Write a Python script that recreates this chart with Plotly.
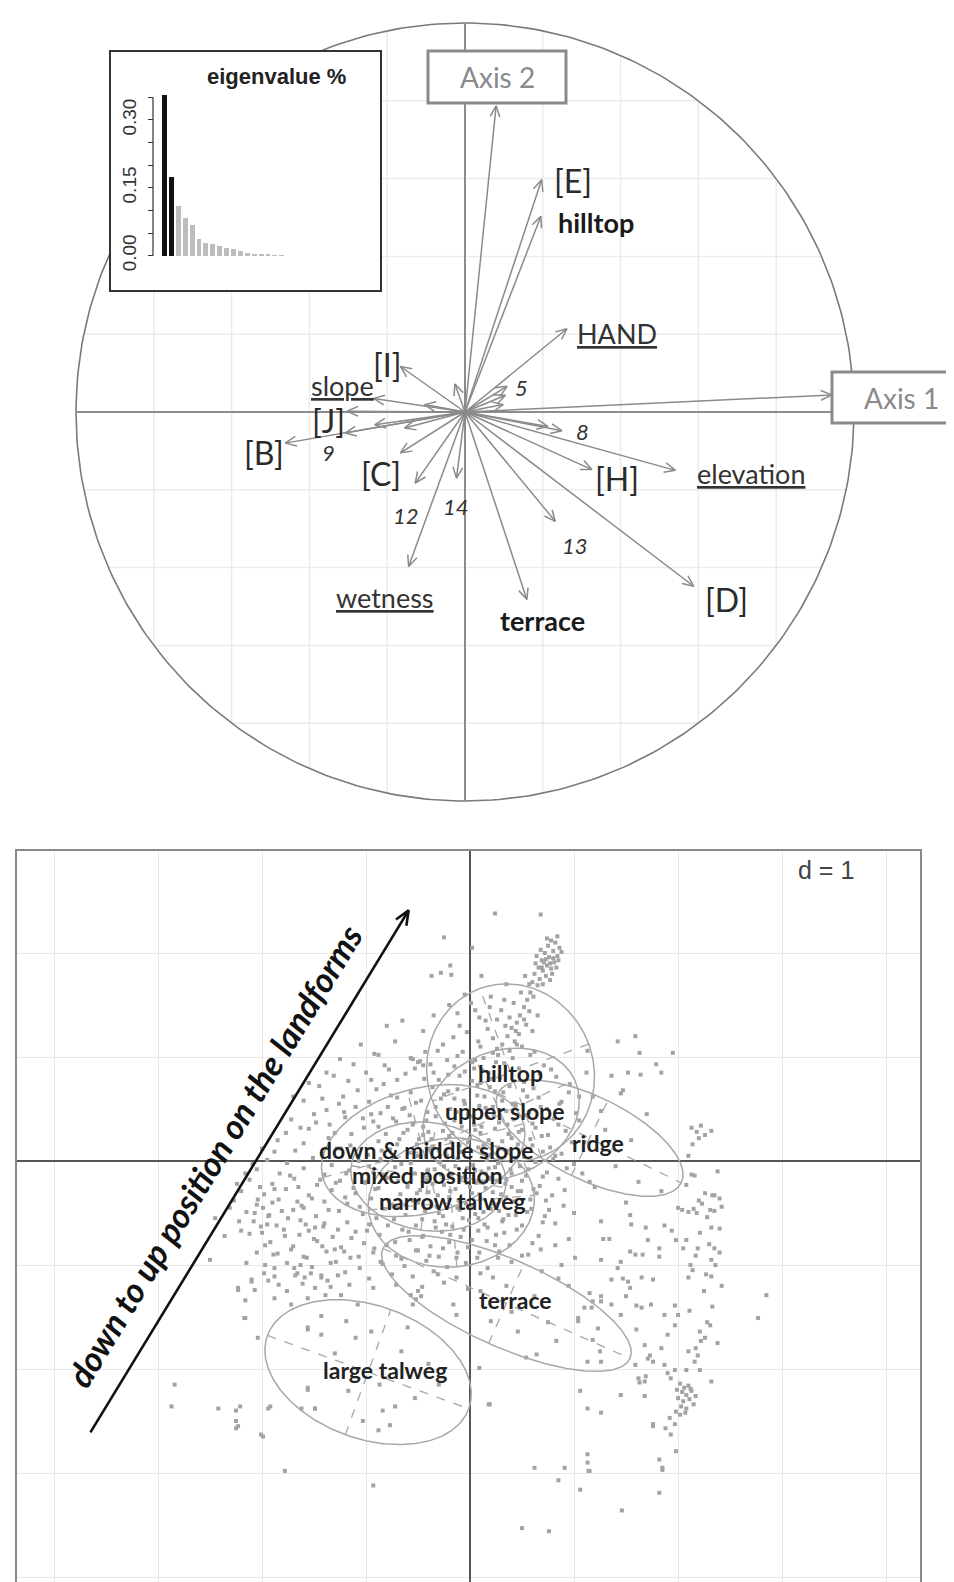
import numpy as np
import plotly.graph_objects as go

W, H = 954, 1582

# ---------------- eigenvalue inset ----------------
eig_values = [0.354, 0.174, 0.110, 0.083, 0.068, 0.0375, 0.029, 0.026, 0.022,
              0.016, 0.015, 0.0096, 0.006, 0.0044, 0.0037, 0.002, 0.0015, 0.001]
n_kept = 2
eig_ticks = [0, 0.05, 0.10, 0.15, 0.20, 0.25, 0.30, 0.35]
eig_ticktext = ["0.00", "", "", "0.15", "", "", "0.30", ""]

# ---------------- correlation circle: arrow tips (axis 1, axis 2) ----------------
var_x = [0.080, 0.197, 0.195, 0.262, -0.166, -0.235, -0.303, -0.462, -0.308, -0.166,
         -0.128, -0.145, -0.022, 0.159, 0.232, 0.588, 0.326, 0.541, 0.249, 0.108,
         0.943, 0.104, 0.098, -0.155, -0.232, -0.104, 0.213, -0.026]
var_y = [0.787, 0.597, 0.503, 0.214, 0.117, 0.035, 0.002, -0.080, -0.054, -0.105,
         -0.183, -0.397, -0.170, -0.482, -0.281, -0.448, -0.148, -0.150, -0.048, 0.066,
         0.044, 0.043, 0.019, -0.041, -0.033, 0.019, -0.037, 0.072]
circle_grid = [-0.8, -0.6, -0.4, -0.2, 0.2, 0.4, 0.6, 0.8]

# labels written next to the arrows
circle_labels = ["[E]", "hilltop", "HAND", "[I]", "slope", "[J]", "[B]", "9", "[C]", "12",
                 "14", "wetness", "terrace", "13", "[H]", "8", "5", "elevation", "[D]"]
circle_label_x = [0.278, 0.337, 0.391, -0.198, -0.316, -0.352, -0.517, -0.352, -0.216, -0.152,
                  -0.023, -0.206, 0.198, 0.283, 0.391, 0.303, 0.144, 0.735, 0.671]
circle_label_y = [0.596, 0.486, 0.203, 0.121, 0.067, -0.021, -0.103, -0.105, -0.157, -0.265,
                  -0.242, -0.478, -0.537, -0.344, -0.172, -0.049, 0.062, -0.159, -0.481]

# ---------------- class scatter (bottom panel) ----------------
classes = ["hilltop", "upper slope", "ridge", "down & middle slope",
           "mixed position", "narrow talweg", "terrace", "large talweg"]
class_label_x = [0.394, 0.327, 1.231, -0.423, -0.404, -0.173, 0.442, -0.817]
class_label_y = [0.846, 0.481, 0.173, 0.106, -0.135, -0.385, -1.337, -2.010]
ell_cx = [0.39, 0.30, 1.15, -0.45, -0.40, -0.18, 0.35, -0.98]
ell_cy = [0.85, 0.45, 0.22, 0.10, -0.15, -0.40, -1.37, -2.03]
ell_a = [0.86, 0.78, 0.98, 1.00, 0.75, 0.80, 1.30, 1.03]
ell_b = [0.80, 0.60, 0.40, 0.60, 0.52, 0.62, 0.42, 0.64]
ell_angle = [110, 25, -26, 15, -8, 5, -24, -20]

cloud = [
    # hilltop blob and its tail
    (0.62, 1.80), (0.66, 1.86), (0.70, 1.83), (0.74, 1.88), (0.78, 1.85), (0.81, 1.91), (0.69, 1.93),
    (0.64, 1.97), (0.72, 2.00), (0.76, 1.96), (0.80, 2.02), (0.84, 1.97), (0.86, 2.05), (0.75, 2.07),
    (0.68, 2.03), (0.73, 1.78), (0.77, 1.74), (0.71, 1.91), (0.79, 1.80), (0.83, 1.86), (0.67, 1.75),
    (0.63, 1.90), (0.82, 2.10), (0.78, 2.12), (0.85, 1.93), (0.74, 2.14), (0.88, 2.01), (0.70, 1.70),
    (0.65, 1.69), (0.60, 1.72), (0.73, 1.94), (0.77, 1.90), (0.69, 1.86), (0.84, 2.16), (0.80, 1.95),
    (0.58, 1.62), (0.55, 1.55), (0.61, 1.58), (0.52, 1.48), (0.57, 1.44), (0.48, 1.40), (0.45, 1.33),
    (0.52, 1.36), (0.40, 1.28), (0.47, 1.22), (0.36, 1.20), (0.43, 1.15), (0.31, 1.12), (0.38, 1.06),
    (0.27, 1.02), (0.50, 1.10), (0.34, 1.30), (0.60, 1.25), (0.22, 1.18), (0.15, 1.35), (0.30, 1.45),
    (0.42, 1.52), (0.10, 1.10), (0.65, 1.40),
    # scattered upper points
    (0.24, 2.38), (0.68, 2.37), (-0.37, 1.78), (-0.28, 1.81), (-0.19, 1.88), (-0.18, 1.79), (0.11, 1.78),
    (-0.05, 1.60), (0.05, 1.45), (-0.20, 1.50), (-0.35, 1.40), (-0.10, 1.30), (0.20, 1.58), (-0.45, 1.25),
    (0.35, 1.70), (0.02, 2.05), (-0.25, 2.15),
    (-0.72, 1.15), (-0.88, 1.02), (-0.57, 0.99), (-0.50, 0.95), (-0.45, 0.92), (-0.53, 0.89), (-0.43, 1.05),
    (-1.05, 1.12), (-1.25, 0.98), (-0.80, 1.30), (-0.65, 1.35), (-1.38, 0.85), (-1.55, 0.75), (-1.70, 0.62),
    (1.42, 1.15), (1.59, 1.20), (1.95, 1.04), (1.84, 0.85), (1.52, 0.85), (1.13, 1.06), (1.45, 0.65),
    (1.26, 0.48), (1.63, 1.04), (1.79, 0.93), (1.64, 0.83), (1.47, 0.68), (1.36, 0.82), (1.12, 0.85),
    (1.05, 0.62), (1.30, 0.30), (1.55, 0.20), (1.70, 0.45), (1.40, -0.05), (1.62, -0.20), (1.20, -0.25),
    (1.50, -0.40),
    # right cluster
    (2.13, 0.32), (2.18, 0.28), (2.22, 0.34), (2.26, 0.25), (2.20, 0.22), (2.32, 0.29), (2.14, 0.16),
    (2.10, 0.05), (2.16, -0.14), (2.08, -0.23), (1.84, -0.29), (2.35, -0.33), (2.35, -0.48), (2.00, -0.45),
    (2.13, -0.13), (2.26, -0.31), (2.33, -0.33), (2.23, -0.41), (2.18, -0.50), (2.31, -0.47), (2.40, -0.36),
    (2.42, -0.44), (2.04, -0.47), (2.10, -0.49), (2.15, -0.46), (2.20, -0.38), (2.28, -0.54), (2.38, -0.10),
    (1.87, -0.62), (1.94, -0.67), (1.98, -0.76), (2.08, -0.76), (2.05, -0.84), (2.19, -0.84), (2.21, -0.69),
    (2.32, -0.64), (2.35, -0.84), (2.40, -0.88), (2.32, -0.95), (2.17, -0.91), (2.12, -1.00), (2.14, -1.05),
    (2.27, -1.09), (2.32, -1.11), (2.10, -1.12), (1.54, -0.52), (1.55, -0.61), (1.69, -0.64), (1.26, -0.58),
    (1.28, -0.75), (1.34, -0.75), (1.54, -0.87), (1.59, -0.90), (1.66, -0.90), (1.71, -0.76), (1.82, -0.92),
    (1.82, -0.84), (1.26, -0.95), (1.45, -0.97), (1.42, -1.03), (1.47, -1.13), (1.52, -1.16), (1.36, -1.14),
    (1.54, -1.22), (1.65, -1.12), (1.76, -1.14), (1.50, -1.30), (1.26, -1.30), (1.18, -1.35), (1.15, -1.27),
    (1.36, -1.38), (1.10, -1.41), (1.60, -1.39), (1.74, -1.38), (1.65, -1.41), (1.87, -1.48), (1.97, -1.39),
    (2.00, -1.48), (2.11, -1.44), (1.90, -1.67), (1.97, -1.58), (1.60, -1.62), (1.23, -1.61), (1.04, -1.51),
    (1.18, -1.72), (1.25, -1.83), (1.13, -1.93), (1.26, -1.93), (1.68, -1.77), (1.73, -1.87), (1.76, -1.93),
    (1.84, -1.80), (1.71, -1.90), (2.21, -1.64), (2.26, -1.70), (2.31, -1.58), (2.22, -1.73), (2.17, -1.80),
    (2.19, -1.87), (2.16, -1.93), (2.10, -1.83), (2.21, -2.01), (1.59, -1.96), (1.62, -2.09), (1.69, -2.07),
    (1.68, -2.12), (1.63, -2.13), (1.87, -1.96), (1.90, -2.04), (1.97, -2.01), (1.93, -2.09), (2.08, -2.01),
    (2.32, -2.12), (2.40, -0.65), (2.30, -0.80), (2.36, -1.00), (2.25, -1.25), (2.33, -1.40), (2.28, -1.55),
    (2.38, -1.75), (2.42, -1.20),
    (2.02, -2.14), (2.06, -2.18), (2.10, -2.16), (2.04, -2.22), (2.08, -2.25), (2.13, -2.21), (2.00, -2.28),
    (2.05, -2.31), (2.11, -2.29), (2.03, -2.36), (2.08, -2.38), (2.15, -2.34), (1.98, -2.41), (2.02, -2.44),
    (2.07, -2.42), (2.12, -2.19), (2.17, -2.26), (1.99, -2.20),
    (1.92, -2.47), (1.97, -2.53), (1.88, -2.57), (1.93, -2.63), (1.76, -2.53), (1.98, -2.79), (1.82, -2.87),
    (1.85, -2.97), (1.13, -2.82), (1.13, -2.90), (1.15, -2.98), (1.13, -2.38), (1.26, -2.42), (1.45, -2.25),
    (1.06, -2.21), (1.68, -2.26), (2.85, -1.29), (2.77, -1.51),
    # lower scattered points
    (-1.78, -2.98), (-0.93, -3.12), (0.62, -2.95), (0.91, -2.95), (1.14, -2.98), (0.85, -3.07), (1.06, -3.16),
    (1.46, -3.36), (1.82, -3.19), (1.85, -2.95), (0.50, -3.53), (0.76, -3.56), (0.18, -2.34), (1.76, -2.55),
    (0.09, -1.99), (0.19, -2.34),
    # terrace region
    (0.20, -1.54), (0.46, -1.64), (0.54, -1.89), (0.64, -1.86), (0.83, -1.73), (1.04, -1.54), (1.17, -1.41),
    (0.85, -1.13), (0.69, -1.06), (0.27, -0.93), (0.56, -0.90), (1.01, -0.93), (1.26, -1.35), (1.45, -1.48),
    (0.82, -0.81), (0.35, -1.20), (0.10, -1.25), (0.62, -1.30), (0.95, -1.20), (0.40, -1.45), (0.75, -1.55),
    (-0.16, -1.38), (-0.13, -1.48), (-0.31, -1.09), (-0.57, -1.29), (-0.52, -1.33), (-0.47, -1.30),
    (-0.55, -1.38), (-0.50, -1.25),
    # large talweg region
    (-1.56, -1.62), (-1.43, -1.67), (-1.19, -1.54), (-1.10, -1.70), (-0.95, -1.64), (-0.60, -1.60),
    (-0.66, -1.83), (-1.56, -2.18), (-1.49, -2.38), (-1.17, -2.21), (-0.87, -2.15), (-0.72, -2.36),
    (-0.77, -2.54), (-0.53, -2.28), (-0.84, -2.40), (-0.88, -2.59), (-1.03, -2.50), (-1.30, -1.85),
    (-0.40, -1.95), (-0.30, -2.15),
    # left wing and far left
    (-2.23, -1.22), (-2.10, -1.16), (-2.17, -1.51), (-2.04, -1.70), (-2.42, -2.38), (-2.21, -2.36),
    (-2.23, -2.55), (-2.01, -2.63), (-1.92, -2.36), (-2.84, -2.15), (-2.87, -2.36), (-2.25, -2.40),
    (-2.25, -2.50), (-2.25, -2.57), (-1.94, -2.38), (-1.99, -2.65), (-2.16, -1.51), (-2.16, -1.34),
    (-2.23, -1.24), (-2.10, -1.14), (-2.07, -1.24), (-2.15, -0.98), (-2.36, -0.72), (-2.20, -0.67),
    (-2.04, -0.37), (-1.99, -0.45), (-2.07, -0.50), (-2.01, -0.63), (-1.94, -0.53), (-1.97, -0.81),
    (-1.89, -0.90), (-1.97, -1.00), (-1.88, -1.03), (-1.94, -1.15), (-1.88, -1.11), (-1.68, -1.10),
    (-1.63, -1.00), (-1.59, -1.12), (-1.53, -1.08), (-1.49, -1.22), (-1.43, -1.10), (-1.37, -1.15),
    (-1.27, -1.10), (-1.72, -1.38), (-1.88, -1.32), (-1.56, -1.32), (-1.39, -1.29), (-1.24, -1.29),
    (-1.08, -1.38), (-1.43, -1.49), (-1.56, -1.60), (-1.62, -2.38), (-1.49, -2.38), (-1.56, -2.20),
    (-2.50, -0.95), (-2.45, -0.55),
    # dense core
    (-0.92, 1.03), (-0.55, 0.98), (-0.31, 1.06), (0.05, 0.97), (0.22, 1.04), (0.41, 0.99), (0.58, 1.02),
    (-0.12, 1.01), (-1.12, 0.93), (-0.78, 0.88), (-0.48, 0.96), (-0.15, 0.91), (0.12, 0.87), (0.33, 0.94),
    (0.47, 0.89), (0.71, 0.92), (0.02, 0.95), (-1.31, 0.82), (-0.95, 0.78), (-0.62, 0.84), (-0.44, 0.79),
    (-0.21, 0.83), (0.02, 0.77), (0.18, 0.85), (0.29, 0.80), (0.52, 0.76), (0.83, 0.81), (-0.05, 0.86),
    (-1.45, 0.72), (-1.08, 0.68), (-0.83, 0.74), (-0.57, 0.66), (-0.36, 0.71), (-0.12, 0.69), (0.07, 0.73),
    (0.24, 0.67), (0.38, 0.72), (0.61, 0.70), (0.95, 0.66), (-0.25, 0.64), (-1.60, 0.58), (-1.22, 0.62),
    (-0.97, 0.57), (-0.70, 0.61), (-0.52, 0.56), (-0.28, 0.60), (-0.05, 0.55), (0.14, 0.62), (0.31, 0.58),
    (0.44, 0.54), (0.66, 0.61), (0.88, 0.57), (0.22, 0.52), (-1.38, 0.49), (-1.10, 0.52), (-0.86, 0.46),
    (-0.63, 0.51), (-0.41, 0.47), (-0.19, 0.50), (-0.02, 0.45), (0.09, 0.53), (0.35, 0.48), (0.53, 0.44),
    (0.74, 0.50), (1.02, 0.46), (-1.72, 0.40), (-1.48, 0.37), (-1.20, 0.42), (-0.93, 0.38), (-0.74, 0.41),
    (-0.55, 0.36), (-0.33, 0.43), (-0.15, 0.39), (0.04, 0.35), (0.17, 0.42), (0.28, 0.37), (0.42, 0.40),
    (0.60, 0.36), (0.81, 0.41), (-0.45, 0.33), (-1.55, 0.31), (-1.30, 0.27), (-1.02, 0.32), (-0.81, 0.26),
    (-0.60, 0.30), (-0.45, 0.25), (-0.26, 0.29), (-0.08, 0.33), (0.10, 0.27), (0.24, 0.31), (0.37, 0.26),
    (0.50, 0.30), (0.69, 0.24), (0.92, 0.29), (-0.68, 0.21), (-1.85, 0.20), (-1.60, 0.17), (-1.36, 0.22),
    (-1.15, 0.15), (-0.88, 0.19), (-0.70, 0.16), (-0.49, 0.21), (-0.36, 0.14), (-0.18, 0.18), (0.00, 0.22),
    (0.13, 0.15), (0.31, 0.19), (0.46, 0.16), (0.58, 0.21), (0.77, 0.13), (1.10, 0.18), (-1.68, 0.10),
    (-1.42, 0.07), (-1.24, 0.12), (-0.98, 0.06), (-0.77, 0.11), (-0.58, 0.08), (-0.39, 0.12), (-0.22, 0.05),
    (-0.06, 0.09), (0.08, 0.13), (0.20, 0.06), (0.36, 0.10), (0.52, 0.04), (0.70, 0.09), (0.88, 0.07),
    (-1.95, 0.01), (-1.76, -0.02), (-1.51, 0.03), (-1.33, -0.04), (-1.07, 0.00), (-0.86, 0.02), (-0.66, -0.03),
    (-0.47, 0.04), (-0.29, -0.01), (-0.12, 0.02), (0.03, -0.04), (0.16, 0.01), (0.27, -0.02), (0.44, 0.03),
    (0.63, -0.01), (0.80, 0.02), (1.00, -0.03), (-2.05, -0.08), (-1.83, -0.12), (-1.60, -0.07), (-1.40, -0.13),
    (-1.16, -0.09), (-0.93, -0.11), (-0.72, -0.06), (-0.53, -0.12), (-0.34, -0.08), (-0.18, -0.13),
    (-0.03, -0.07), (0.11, -0.10), (0.24, -0.06), (0.40, -0.12), (0.56, -0.08), (0.74, -0.11), (0.93, -0.07),
    (-2.12, -0.18), (-1.90, -0.22), (-1.69, -0.17), (-1.47, -0.23), (-1.25, -0.19), (-1.01, -0.21),
    (-0.80, -0.16), (-0.60, -0.22), (-0.42, -0.18), (-0.25, -0.23), (-0.09, -0.17), (0.06, -0.21),
    (0.19, -0.16), (0.34, -0.22), (0.50, -0.19), (0.67, -0.24), (0.85, -0.17), (1.15, -0.20),
    (-2.20, -0.29), (-1.98, -0.32), (-1.77, -0.27), (-1.55, -0.33), (-1.33, -0.28), (-1.10, -0.31),
    (-0.88, -0.26), (-0.67, -0.32), (-0.48, -0.28), (-0.31, -0.33), (-0.14, -0.27), (0.02, -0.31),
    (0.15, -0.26), (0.30, -0.32), (0.46, -0.29), (0.61, -0.27), (0.79, -0.33), (-2.27, -0.38), (-2.05, -0.42),
    (-1.84, -0.37), (-1.62, -0.43), (-1.40, -0.39), (-1.18, -0.41), (-0.95, -0.36), (-0.75, -0.42),
    (-0.55, -0.38), (-0.37, -0.43), (-0.20, -0.37), (-0.04, -0.41), (0.10, -0.36), (0.26, -0.42),
    (0.42, -0.39), (0.58, -0.37), (0.90, -0.43), (-2.15, -0.49), (-1.93, -0.52), (-1.70, -0.47),
    (-1.48, -0.53), (-1.26, -0.48), (-1.03, -0.51), (-0.82, -0.46), (-0.62, -0.52), (-0.43, -0.48),
    (-0.26, -0.53), (-0.10, -0.47), (0.05, -0.51), (0.20, -0.46), (0.37, -0.52), (0.55, -0.49), (0.76, -0.47),
    (-2.08, -0.58), (-1.86, -0.62), (-1.63, -0.57), (-1.41, -0.63), (-1.18, -0.59), (-0.97, -0.61),
    (-0.73, -0.56), (-0.52, -0.62), (-0.34, -0.58), (-0.17, -0.63), (-0.01, -0.57), (0.14, -0.61),
    (0.32, -0.56), (0.50, -0.62), (0.70, -0.59), (-2.00, -0.69), (-1.78, -0.72), (-1.55, -0.67),
    (-1.32, -0.73), (-1.10, -0.68), (-0.87, -0.71), (-0.65, -0.66), (-0.45, -0.72), (-0.27, -0.68),
    (-0.09, -0.73), (0.08, -0.67), (0.25, -0.71), (0.45, -0.66), (0.66, -0.72), (-1.92, -0.78),
    (-1.70, -0.82), (-1.47, -0.77), (-1.24, -0.83), (-1.02, -0.79), (-0.80, -0.81), (-0.58, -0.76),
    (-0.38, -0.82), (-0.20, -0.78), (-0.02, -0.83), (0.16, -0.77), (0.38, -0.81), (0.60, -0.79),
    (-1.85, -0.89), (-1.60, -0.92), (-1.38, -0.87), (-1.15, -0.93), (-0.93, -0.88), (-0.71, -0.91),
    (-0.50, -0.86), (-0.30, -0.92), (-0.12, -0.88), (0.07, -0.93), (0.28, -0.87), (0.50, -0.91),
    (-1.76, -0.98), (-1.52, -1.02), (-1.29, -0.97), (-1.06, -1.03), (-0.84, -0.99), (-0.63, -1.01),
    (-0.42, -0.96), (-0.22, -1.02), (-0.04, -0.98), (0.17, -1.03), (0.40, -0.97), (-1.66, -1.08),
    (-1.43, -1.12), (-1.20, -1.07), (-0.97, -1.13), (-0.75, -1.09), (-0.55, -1.11), (-0.35, -1.06),
    (-0.13, -1.12), (0.10, -1.08),
    (-0.55, 0.35), (-0.40, 0.28), (-0.20, 0.24), (0.05, 0.30), (0.18, 0.20), (0.40, 0.22), (-0.50, 0.05),
    (-0.30, 0.10), (-0.10, 0.15), (0.12, 0.08), (0.30, 0.02), (0.48, -0.05), (-0.45, -0.15), (-0.25, -0.05),
    (-0.05, -0.15), (0.15, -0.12), (0.35, -0.18), (-0.60, -0.25), (-0.40, -0.30), (-0.20, -0.35),
    (0.00, -0.25), (0.22, -0.30), (0.40, -0.25), (-0.70, -0.45), (-0.50, -0.40), (-0.30, -0.50),
    (-0.12, -0.45), (0.08, -0.55), (0.28, -0.48), (-0.85, 0.10), (-1.00, -0.20), (-1.20, -0.35),
    (-0.90, -0.55), (-1.40, -0.60), (-1.60, -0.45), (-1.75, -0.55), (-1.90, -0.40), (-1.65, -0.25),
    (-1.50, -0.75), (-1.30, -0.85), (0.60, 0.15), (0.70, -0.15), (0.85, 0.35), (0.55, 0.62), (0.10, 0.75),
    (-0.35, 0.85), (-0.15, 0.60), (0.25, 0.95), (0.45, 1.12), (-0.65, 0.50),
    # extra density in the core
    (-0.95, 0.45), (-0.88, 0.33), (-0.79, 0.52), (-0.71, 0.38), (-0.64, 0.27), (-0.58, 0.44), (-0.51, 0.16),
    (-0.47, 0.58), (-0.42, 0.39), (-0.37, 0.21), (-0.33, 0.52), (-0.29, 0.05), (-0.24, 0.36), (-0.21, 0.67),
    (-0.17, 0.27), (-0.13, 0.47), (-0.09, 0.09), (-0.06, 0.58), (-0.02, 0.18), (0.03, 0.43), (0.07, 0.63),
    (0.11, 0.33), (0.15, 0.51), (0.19, 0.71), (0.23, 0.44), (0.27, 0.13), (0.32, 0.66), (0.36, 0.35),
    (0.41, 0.55), (0.47, 0.28), (0.51, 0.68), (0.57, 0.47), (0.63, 0.32), (0.68, 0.52),
    (-0.97, -0.05), (-0.91, -0.27), (-0.84, -0.13), (-0.78, -0.38), (-0.73, 0.04), (-0.69, -0.19),
    (-0.62, -0.42), (-0.57, -0.02), (-0.51, -0.31), (-0.46, -0.56), (-0.41, -0.09), (-0.36, -0.22),
    (-0.32, -0.44), (-0.28, -0.13), (-0.23, -0.61), (-0.19, -0.29), (-0.14, -0.05), (-0.11, -0.38),
    (-0.07, -0.55), (-0.03, -0.21), (0.01, -0.45), (0.05, -0.09), (0.09, -0.32), (0.13, -0.49),
    (0.18, -0.07), (0.22, -0.41), (0.26, -0.19), (0.31, -0.58), (0.35, -0.35), (0.39, -0.08),
    (0.44, -0.52), (0.49, -0.29), (0.54, -0.14), (0.59, -0.46), (0.64, -0.31), (0.72, -0.53),
    (-1.35, 0.35), (-1.28, 0.12), (-1.21, 0.47), (-1.14, 0.26), (-1.08, 0.05), (-1.03, 0.41),
    (-1.19, -0.12), (-1.12, -0.26), (-1.06, -0.44), (-1.29, -0.21), (-1.36, -0.47), (-1.44, -0.18),
    (-1.52, -0.36), (-1.58, -0.61), (-1.66, -0.39), (-1.73, -0.14), (-1.81, -0.48), (-1.88, -0.27),
    (-1.95, -0.61), (-2.02, -0.25), (-1.79, -0.66), (-1.72, -0.85), (-1.64, -0.71), (-1.57, -0.93),
    (-1.49, -0.64), (-1.42, -0.82), (-1.34, -0.98), (-1.27, -0.66), (-1.21, -0.87), (-1.14, -0.74),
    (-1.07, -0.92), (-0.99, -0.67), (-0.92, -0.84), (-0.86, -0.97), (-0.79, -0.62), (-0.72, -0.78),
    (-0.66, -0.94), (-0.59, -0.68), (-0.52, -0.86), (-0.46, -0.73), (-0.39, -0.91), (-0.33, -0.64),
    (-0.26, -0.84), (-0.19, -0.71), (-0.13, -0.93), (-0.06, -0.66), (0.02, -0.76), (0.09, -0.88),
    (0.17, -0.64), (0.24, -0.81), (0.33, -0.69),
    (-0.38, 0.93), (-0.30, 0.78), (-0.26, 1.12), (-0.22, 0.97), (-0.16, 1.19), (-0.10, 0.82),
    (-0.07, 1.05), (-0.03, 1.24), (0.04, 0.89), (0.08, 1.15), (0.13, 0.99), (0.17, 1.27), (0.21, 0.79),
    (0.26, 1.08), (0.09, 1.38), (0.01, 1.52), (-0.12, 1.42), (0.19, 1.48), (0.26, 1.36), (0.33, 1.55),
    (0.38, 1.38), (0.44, 1.25), (0.54, 1.31), (0.49, 1.62), (0.57, 1.70), (0.53, 1.78),
    (-0.70, 0.78), (-0.76, 0.63), (-0.82, 0.92), (-0.90, 0.69), (-1.00, 0.85), (-1.17, 0.77),
    (-1.26, 0.55), (-1.42, 0.60), (-1.50, 0.45), (-1.63, 0.32), (-1.77, 0.27), (-1.88, 0.09),
    (-2.00, 0.12), (-2.09, -0.03), (-2.16, -0.12), (-2.24, -0.22), (-2.31, -0.45), (-2.22, -0.58),
    (-2.12, -0.70), (-2.05, -0.88), (-1.98, -1.08), (-1.84, -1.19), (-1.76, -1.25), (-1.69, -1.03),
    (-1.61, -1.18), (-1.34, -1.21), (-1.16, -1.19), (-0.93, -1.22), (-0.71, -1.19), (-0.46, -1.21),
    (-0.25, -1.17), (-0.02, -1.23), (0.22, -1.12),
    (0.75, 0.25), (0.82, 0.05), (0.91, -0.28), (0.98, 0.18), (1.05, 0.39), (1.08, -0.12), (0.86, 0.55),
    (0.96, 0.74), (0.78, 0.88), (0.67, 0.84), (0.62, 1.05), (1.18, 0.62), (0.73, -0.38), (0.82, -0.60),
    (0.95, -0.75), (0.68, -0.85), (0.88, -1.00), (1.00, -0.50),
]

# arrow along the landform gradient (bottom panel units)
trend_start = (-3.65, -2.61)
trend_end = (-0.59, 2.41)
trend_text = "down to up position on the landforms"

# ---------------- geometry of the page ----------------
R = 389.0           # px per unit on the circle
CX, CY = 457, 404   # circle centre in px
D = 104.0           # px per unit in the class plot
OX, OY = 462, 1153  # origin of the class plot in px


def px(x):
    return x / W


def py(y):
    return 1 - y / H


def arrow_path(x0, y0, x1, y1, head, spread=0.42):
    ang = np.arctan2(y1 - y0, x1 - x0)
    xs = [x0, x1, None,
          x1 - head * np.cos(ang - spread), x1, x1 - head * np.cos(ang + spread), None]
    ys = [y0, y1, None,
          y1 - head * np.sin(ang - spread), y1, y1 - head * np.sin(ang + spread), None]
    return xs, ys


fig = go.Figure()

# grid of the correlation circle, only inside the circle
gx, gy = [], []
for g in circle_grid:
    h = np.sqrt(1 - g * g)
    gx += [g, g, None, -h, h, None]
    gy += [-h, h, None, g, g, None]
fig.add_trace(go.Scatter(x=gx, y=gy, mode="lines", line=dict(color="#ebebeb", width=1.5),
                         hoverinfo="skip", xaxis="x", yaxis="y"))

# circle + axes of the correlation circle
t = np.linspace(0, 2 * np.pi, 361)
fig.add_trace(go.Scatter(x=np.cos(t), y=np.sin(t), mode="lines",
                         line=dict(color="#7a7a7a", width=1.6), hoverinfo="skip",
                         xaxis="x", yaxis="y"))
fig.add_trace(go.Scatter(x=[-1, 1, None, 0, 0], y=[0, 0, None, -1, 1], mode="lines",
                         line=dict(color="#8c8c8c", width=2), hoverinfo="skip",
                         xaxis="x", yaxis="y"))

ax_, ay_ = [], []
for x1, y1 in zip(var_x, var_y):
    xs, ys = arrow_path(0, 0, x1, y1, 12 / R)
    ax_ += xs
    ay_ += ys
fig.add_trace(go.Scatter(x=ax_, y=ay_, mode="lines",
                         line=dict(color="#8a8a8a", width=1.5), hoverinfo="skip",
                         xaxis="x", yaxis="y"))

# eigenvalue bars
bar_colors = ["#111111" if i < n_kept else "#bdbdbd" for i in range(len(eig_values))]
fig.add_trace(go.Bar(x=list(range(len(eig_values))), y=eig_values, width=0.72,
                     marker=dict(color=bar_colors, line=dict(width=0)),
                     xaxis="x3", yaxis="y3", hoverinfo="skip"))

# class scatter
fig.add_trace(go.Scatter(x=[p[0] for p in cloud], y=[p[1] for p in cloud], mode="markers",
                         marker=dict(symbol="square", size=4, color="#a3a3a3"),
                         hoverinfo="skip", xaxis="x2", yaxis="y2"))

# ellipses with their dashed axes
for cx, cy, a, b, ang in zip(ell_cx, ell_cy, ell_a, ell_b, ell_angle):
    th = np.radians(ang)
    ex = cx + a * np.cos(t) * np.cos(th) - b * np.sin(t) * np.sin(th)
    ey = cy + a * np.cos(t) * np.sin(th) + b * np.sin(t) * np.cos(th)
    fig.add_trace(go.Scatter(x=ex, y=ey, mode="lines", line=dict(color="#a8a8a8", width=1.5),
                             hoverinfo="skip", xaxis="x2", yaxis="y2"))
    ux, uy = np.cos(th), np.sin(th)
    fig.add_trace(go.Scatter(
        x=[cx - a * ux, cx + a * ux, None, cx + b * uy, cx - b * uy],
        y=[cy - a * uy, cy + a * uy, None, cy - b * ux, cy + b * ux],
        mode="lines", line=dict(color="#a8a8a8", width=1.3, dash="dash"),
        hoverinfo="skip", xaxis="x2", yaxis="y2"))

# gradient arrow
xs, ys = arrow_path(trend_start[0], trend_start[1], trend_end[0], trend_end[1], 0.15, 0.40)
fig.add_trace(go.Scatter(x=xs, y=ys, mode="lines", line=dict(color="#111111", width=2.6),
                         hoverinfo="skip", xaxis="x2", yaxis="y2"))

# ---------------- text ----------------
annotations = []
calibri = "Lato, 'Open Sans', sans-serif"
arial = "Liberation Sans, Arial, sans-serif"
for name, x, y in zip(circle_labels, circle_label_x, circle_label_y):
    if name.startswith("["):
        text, font = name, dict(family=calibri, size=32, color="#2b2b2b")
    elif name in ("hilltop", "terrace"):
        text, font = name, dict(family=calibri, size=27, color="#1a1a1a", weight="bold")
    elif name.isdigit():
        text, font = name, dict(family=calibri, size=22, color="#333333", style="italic")
    else:
        text, font = "<u>" + name + "</u>", dict(family=calibri, size=27, color="#333333")
    annotations.append(dict(x=x, y=y, xref="x", yref="y", text=text, showarrow=False, font=font,
                            xanchor="center", yanchor="middle"))

for name, x, y in zip(classes, class_label_x, class_label_y):
    annotations.append(dict(x=x, y=y, xref="x2", yref="y2", text=name, showarrow=False,
                            xanchor="center", yanchor="middle",
                            font=dict(family=calibri, size=23, color="#222222", weight="bold")))

ang_deg = np.degrees(np.arctan2((trend_end[1] - trend_start[1]) * D,
                                (trend_end[0] - trend_start[0]) * D))
annotations.append(dict(x=-2.46, y=0.05, xref="x2", yref="y2", text=trend_text, showarrow=False,
                        textangle=-ang_deg, xanchor="center", yanchor="middle",
                        font=dict(family=calibri, size=34, color="#111111", weight="bold",
                                  style="italic")))


def paper_text(x, y, text, font):
    annotations.append(dict(x=px(x), y=py(y), xref="paper", yref="paper", text=text,
                            showarrow=False, xanchor="center", yanchor="middle", font=font))


paper_text(489, 69, "Axis 2", dict(family=calibri, size=28, color="#8a8a8a"))
paper_text(893, 390, "Axis 1", dict(family=calibri, size=28, color="#8a8a8a"))
paper_text(268, 68, "eigenvalue %", dict(family=arial, size=22, color="#222222", weight="bold"))
paper_text(818, 862, "d = 1", dict(family=arial, size=25, color="#444444"))

shapes = [
    dict(type="rect", xref="paper", yref="paper", x0=px(420), x1=px(558), y0=py(43), y1=py(95),
         line=dict(color="#8a8a8a", width=3), fillcolor="white", layer="above"),
    dict(type="rect", xref="paper", yref="paper", x0=px(824), x1=px(953), y0=py(364), y1=py(415),
         line=dict(color="#8a8a8a", width=3), fillcolor="white", layer="above"),
    dict(type="rect", xref="paper", yref="paper", x0=px(102), x1=px(373), y0=py(43), y1=py(283),
         line=dict(color="#333333", width=2), fillcolor="rgba(0,0,0,0)", layer="above"),
    dict(type="line", xref="paper", yref="y3", x0=px(145), x1=px(145), y0=0, y1=0.35,
         line=dict(color="#333333", width=1.2)),
    dict(type="line", xref="paper", yref="paper", x0=px(943), x1=px(943), y0=py(0), y1=py(838),
         line=dict(color="#e8e8e8", width=2)),
]

fig.update_layout(
    width=W, height=H, margin=dict(l=0, r=0, t=0, b=0),
    paper_bgcolor="white", plot_bgcolor="white", showlegend=False,
    annotations=annotations, shapes=shapes, bargap=0,
    xaxis=dict(domain=[0, px(937)], range=[-CX / R, (937 - CX) / R], showgrid=False,
               zeroline=False, showticklabels=False, ticks="", anchor="y"),
    yaxis=dict(domain=[py(830), 1], range=[(CY - 830) / R, CY / R], showgrid=False,
               zeroline=False, showticklabels=False, ticks="", anchor="x"),
    xaxis2=dict(domain=[px(9), px(912)], range=[(9 - OX) / D, (912 - OX) / D], tick0=0, dtick=1,
                showgrid=True, gridcolor="#e8e8e8", zeroline=True, zerolinecolor="#555555",
                zerolinewidth=1.5, showline=True, mirror=True, linecolor="#8a8a8a", linewidth=2,
                showticklabels=False, ticks="", anchor="y2"),
    yaxis2=dict(domain=[0, py(843)], range=[(OY - H) / D, (OY - 843) / D], tick0=0, dtick=1,
                showgrid=True, gridcolor="#e8e8e8", zeroline=True, zerolinecolor="#555555",
                zerolinewidth=1.5, showline=True, mirror=True, linecolor="#8a8a8a", linewidth=2,
                showticklabels=False, ticks="", anchor="x2"),
    xaxis3=dict(domain=[px(102), px(373)], range=[-(156.5 - 102) / 6.9, (373 - 156.5) / 6.9],
                visible=False, anchor="y3"),
    yaxis3=dict(domain=[py(283), py(43)], range=[-(283 - 247.7) / 452.6, 0.35 + (89.3 - 43) / 452.6],
                anchor="free", position=px(145), showgrid=False, zeroline=False, showline=False,
                tickmode="array", tickvals=eig_ticks, ticktext=eig_ticktext, ticks="outside",
                ticklen=5, tickcolor="#333333", tickwidth=1.2, tickangle=-90, ticklabelstandoff=4,
                tickfont=dict(family=arial, size=19, color="#333333")),
)

fig.write_html("out.html")
